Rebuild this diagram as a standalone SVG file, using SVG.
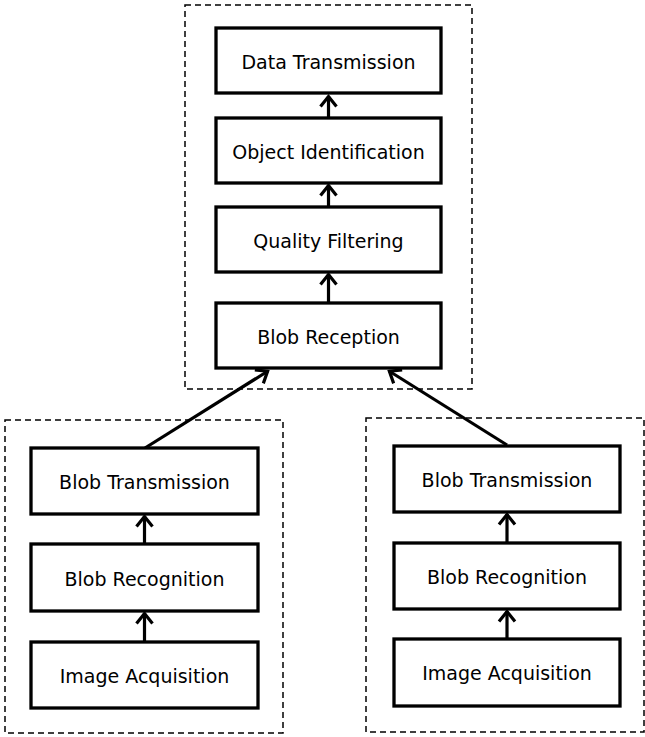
<svg xmlns="http://www.w3.org/2000/svg" width="645" height="737" viewBox="0 0 645 737">
  <style>
    .group { fill: none; stroke: #000; stroke-width: 1.5; stroke-dasharray: 6 4; }
    .box { fill: #fff; stroke: #000; stroke-width: 3.3; }
    .label { font-family: "DejaVu Sans", Verdana, sans-serif; font-size: 19px; fill: #000; text-anchor: middle; }
    .edge { fill: none; stroke: #000; stroke-width: 3.2; marker-end: url(#open); }
  </style>
  <defs>
    <marker id="open" markerUnits="userSpaceOnUse" markerWidth="24" markerHeight="24" refX="0" refY="0" viewBox="-12 -12 24 24" orient="auto">
      <path d="M-10.5,-8 L-0.5,0 L-10.5,8" fill="none" stroke="#000" stroke-width="3.2"/>
    </marker>
  </defs>
  <rect width="645" height="737" fill="#fff"/>

  <!-- processing stages grouped by host -->
  <rect id="server" class="group" x="185" y="5" width="287" height="384"/>
  <rect id="cameraLeft" class="group" x="5" y="420" width="278" height="313"/>
  <rect id="cameraRight" class="group" x="366" y="418" width="278" height="314"/>

  <g id="edges">
    <line class="edge" x1="328.5" y1="118" x2="328.5" y2="96"/>
    <line class="edge" x1="328.5" y1="207" x2="328.5" y2="185"/>
    <line class="edge" x1="328.5" y1="303" x2="328.5" y2="274"/>
    <line class="edge" x1="145" y1="448" x2="268" y2="371"/>
    <line class="edge" x1="507" y1="445" x2="389" y2="371"/>
    <line class="edge" x1="144.5" y1="544" x2="144.5" y2="516"/>
    <line class="edge" x1="144.5" y1="642" x2="144.5" y2="613"/>
    <line class="edge" x1="507" y1="543" x2="507" y2="514"/>
    <line class="edge" x1="507" y1="639" x2="507" y2="611"/>
  </g>

  <g id="dataTransmission">
    <rect class="box" x="216" y="28" width="225" height="65"/>
    <text class="label" x="328.5" y="69">Data Transmission</text>
  </g>
  <g id="objectIdentification">
    <rect class="box" x="216" y="118" width="225" height="65"/>
    <text class="label" x="328.5" y="159">Object Identification</text>
  </g>
  <g id="qualityFiltering">
    <rect class="box" x="216" y="207" width="225" height="65"/>
    <text class="label" x="328.5" y="248">Quality Filtering</text>
  </g>
  <g id="blobReception">
    <rect class="box" x="216" y="303" width="225" height="65"/>
    <text class="label" x="328.5" y="344">Blob Reception</text>
  </g>

  <g id="blobTransmissionLeft">
    <rect class="box" x="31" y="448" width="227" height="66"/>
    <text class="label" x="144.5" y="489">Blob Transmission</text>
  </g>
  <g id="blobRecognitionLeft">
    <rect class="box" x="31" y="544" width="227" height="67"/>
    <text class="label" x="144.5" y="586">Blob Recognition</text>
  </g>
  <g id="imageAcquisitionLeft">
    <rect class="box" x="31" y="642" width="227" height="66"/>
    <text class="label" x="144.5" y="683">Image Acquisition</text>
  </g>

  <g id="blobTransmissionRight">
    <rect class="box" x="394" y="446" width="226" height="66"/>
    <text class="label" x="507" y="487">Blob Transmission</text>
  </g>
  <g id="blobRecognitionRight">
    <rect class="box" x="394" y="543" width="226" height="66"/>
    <text class="label" x="507" y="584">Blob Recognition</text>
  </g>
  <g id="imageAcquisitionRight">
    <rect class="box" x="394" y="639" width="226" height="67"/>
    <text class="label" x="507" y="680">Image Acquisition</text>
  </g>
</svg>
